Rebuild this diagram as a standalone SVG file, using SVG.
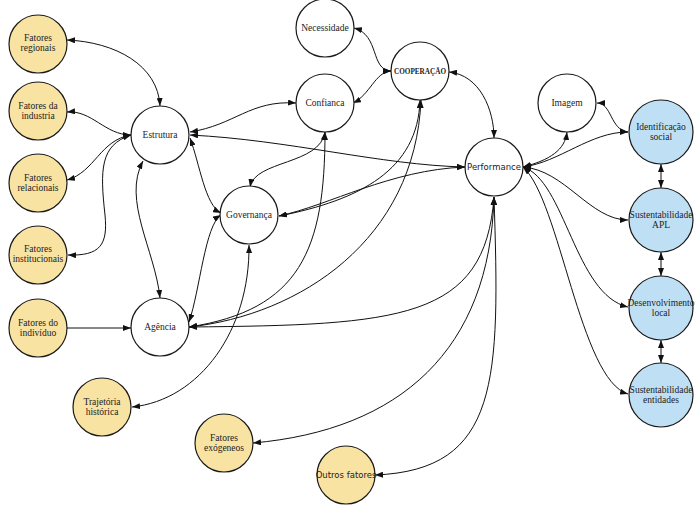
<svg xmlns="http://www.w3.org/2000/svg" width="700" height="508" viewBox="0 0 700 508">
<style>
.n{stroke:#1a1a1a;stroke-width:1.2}
.w{fill:#ffffff}
.y{fill:#f9e3a2}
.b{fill:#bfe0f4}
text{font-family:"Liberation Serif","DejaVu Serif",serif;font-size:9.5px;fill:#222;text-anchor:middle}
.s{font-family:"DejaVu Sans","Liberation Sans",sans-serif;font-size:8.5px}
.bold{font-weight:bold;font-size:8px}
#edges path{fill:none;stroke:#111;stroke-width:1;marker-start:url(#ah);marker-end:url(#ah)}
#edges path.one{marker-start:none}
</style>
<defs>
<marker id="ah" markerUnits="userSpaceOnUse" markerWidth="8" markerHeight="6" viewBox="0 0 8 6" refX="8" refY="3" orient="auto-start-reverse">
<path d="M0,0 L8,3 L0,6 z" fill="#111"/>
</marker>
</defs>
<g id="edges">
<path d="M 67 40 C 115 42, 158 65, 160 106"/>
<path d="M 67 112 C 92 110, 105 135, 131 135"/>
<path d="M 67 180 C 95 172, 100 140, 131 135"/>
<path d="M 68 255 C 100 256, 108 245, 105 215 C 100 170, 100 145, 131 135"/>
<path class="one" d="M 67 328 L 131 328"/>
<path d="M 143 161 C 122 200, 155 250, 160 298"/>
<path d="M 190 138 C 200 165, 205 205, 221 213"/>
<path d="M 189 322 C 200 290, 205 225, 221 215"/>
<path d="M 190 132 C 235 125, 250 100, 296 103"/>
<path d="M 190 135 C 290 140, 380 165, 465 167"/>
<path d="M 325 132 C 320 165, 255 160, 250 187"/>
<path d="M 325 132 C 325 250, 300 310, 189 327"/>
<path d="M 420 100 C 418 170, 360 200, 279 216"/>
<path d="M 465 167 C 390 170, 330 205, 279 216"/>
<path d="M 421 100 C 415 240, 300 315, 189 327"/>
<path d="M 494 197 C 485 320, 400 325, 189 327"/>
<path d="M 249 245 C 250 330, 200 400, 132 407"/>
<path d="M 494 197 C 490 350, 400 430, 253 443"/>
<path d="M 494 197 C 500 380, 500 470, 375 475"/>
<path d="M 449 72 C 480 75, 494 110, 494 138"/>
<path d="M 354 28 C 380 35, 370 70, 391 71"/>
<path d="M 353 103 C 370 95, 375 72, 391 71"/>
<path d="M 523 167 C 550 160, 565 150, 567 132"/>
<path d="M 597 103 C 612 103, 610 130, 628 132"/>
<path d="M 523 167 C 560 162, 590 132, 628 132"/>
<path d="M 523 167 C 565 170, 590 220, 628 220"/>
<path d="M 523 167 C 565 180, 575 295, 628 307"/>
<path d="M 523 167 C 560 200, 580 380, 628 394"/>
<path d="M 661 164 L 661 188"/>
<path d="M 661 252 L 661 276"/>
<path d="M 661 340 L 661 363"/>
</g>
<g id="fatores-regionais"><circle class="n y" cx="38" cy="44" r="29"/><text x="38" y="41">Fatores</text><text x="38" y="51">regionais</text></g>
<g id="fatores-industria"><circle class="n y" cx="38" cy="111" r="29"/><text x="38" y="109">Fatores da</text><text x="38" y="119">industria</text></g>
<g id="fatores-relacionais"><circle class="n y" cx="38" cy="183" r="29"/><text x="38" y="181">Fatores</text><text x="38" y="191">relacionais</text></g>
<g id="fatores-institucionais"><circle class="n y" cx="38" cy="255" r="29"/><text x="38" y="252">Fatores</text><text x="38" y="262">institucionais</text></g>
<g id="fatores-individuo"><circle class="n y" cx="38" cy="328" r="29"/><text x="38" y="326">Fatores do</text><text x="38" y="336">indivíduo</text></g>
<g id="trajetoria"><circle class="n y" cx="102" cy="407" r="29"/><text x="102" y="405">Trajetória</text><text x="102" y="415">histórica</text></g>
<g id="exogeneos"><circle class="n y" cx="224" cy="443" r="29"/><text x="224" y="441">Fatores</text><text x="224" y="451">exógeneos</text></g>
<g id="outros"><circle class="n y" cx="346" cy="475" r="29"/><text class="s" x="346" y="478">Outros fatores</text></g>
<g id="estrutura"><circle class="n w" cx="160" cy="135" r="29"/><text x="160" y="138">Estrutura</text></g>
<g id="agencia"><circle class="n w" cx="160" cy="327" r="29"/><text x="160" y="330">Agência</text></g>
<g id="governanca"><circle class="n w" cx="249" cy="215" r="29"/><text x="249" y="218">Governança</text></g>
<g id="confianca"><circle class="n w" cx="325" cy="103" r="29"/><text x="325" y="106">Confianca</text></g>
<g id="necessidade"><circle class="n w" cx="325" cy="28" r="29"/><text x="325" y="31">Necessidade</text></g>
<g id="cooperacao"><circle class="n w" cx="420" cy="71" r="29"/><text class="bold" x="420" y="74" textLength="52" lengthAdjust="spacingAndGlyphs">COOPERAÇÃO</text></g>
<g id="performance"><circle class="n w" cx="494" cy="167" r="29"/><text class="s" x="494" y="170">Performance</text></g>
<g id="imagem"><circle class="n w" cx="567" cy="103" r="29"/><text x="567" y="106">Imagem</text></g>
<g id="identificacao"><circle class="n b" cx="661" cy="132" r="32"/><text x="661" y="130">Identificação</text><text x="661" y="140">social</text></g>
<g id="sust-apl"><circle class="n b" cx="661" cy="220" r="32"/><text x="661" y="218">Sustentabilidade</text><text x="661" y="228">APL</text></g>
<g id="desenvolvimento"><circle class="n b" cx="661" cy="308" r="32"/><text x="661" y="306">Desenvolvimento</text><text x="661" y="316">local</text></g>
<g id="sust-entidades"><circle class="n b" cx="661" cy="395" r="32"/><text x="661" y="393">Sustentabilidade</text><text x="661" y="403">entidades</text></g>
</svg>
